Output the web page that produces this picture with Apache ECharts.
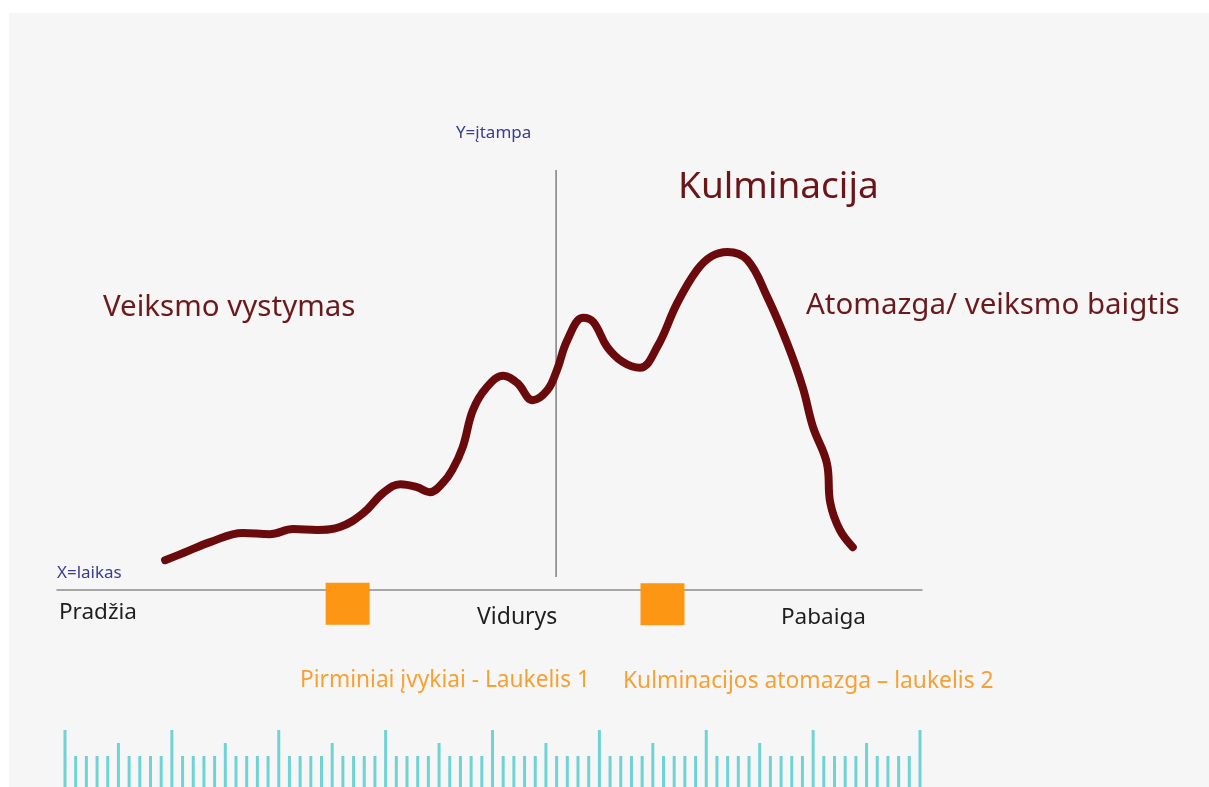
<!DOCTYPE html>
<html>
<head>
<meta charset="utf-8">
<title>Siužeto įtampa</title>
<script src="https://cdn.jsdelivr.net/npm/echarts@6/dist/echarts.min.js"></script>
<style>
  html, body { margin: 0; padding: 0; background: #ffffff; }
  #chart { width: 1209px; height: 787px; }
</style>
</head>
<body>
<div id="chart"></div>
<script>
// laikas (0-100) ir įtampa (0-100), nuskaityta nuo paveikslėlio
const laikas = [12.5, 14.6, 17.7, 21.5, 24.6, 27.3, 30.1, 32.7, 35.4, 37.7, 39.7, 41.6, 43.1, 44.6, 45.7,
  46.9, 48.1, 49.7, 51.6, 53.2, 55.0, 56.7, 57.8, 59.0, 60.8, 62.0, 63.6, 65.4, 67.4, 69.4, 71.7,
  74.0, 75.7, 77.5, 79.8, 82.1, 84.4, 86.2, 87.4, 89.0, 89.4, 90.5, 92.0];
const itampa = [7.1, 8.8, 11.4, 13.6, 13.3, 14.5, 14.3, 15.0, 18.3, 23.1, 25.2, 24.5, 23.3, 25.5, 28.6,
  34.0, 42.9, 48.3, 51.0, 49.3, 45.2, 47.6, 52.4, 59.5, 64.8, 63.8, 57.9, 54.3, 52.9, 57.9, 68.3,
  76.2, 79.5, 80.5, 78.6, 69.8, 58.8, 48.3, 38.8, 30.2, 20.7, 14.3, 10.2];

// vidurio linija ir laukeliai
const vidurys = 57.7;
const vidurioLinija = [3.1, 100];
const laukeliai = [[33.6, -3.3], [70.0, -3.4]];

// liniuotė apačioje: 81 padala
const liniuote = [
  57, 31, 31, 31, 31, 44, 31, 31, 31, 31,
  57, 31, 31, 31, 31, 44, 31, 31, 31, 31,
  57, 31, 31, 31, 31, 44, 31, 31, 31, 31,
  57, 31, 31, 31, 31, 44, 31, 31, 31, 31,
  57, 31, 31, 31, 31, 44, 31, 31, 31, 31,
  57, 31, 31, 31, 31, 44, 31, 31, 31, 31,
  57, 31, 31, 31, 31, 44, 31, 31, 31, 31,
  57, 31, 31, 31, 31, 44, 31, 31, 31, 31,
  57
];

const font = '"Noto Sans", "Open Sans", sans-serif';

document.addEventListener("DOMContentLoaded", function () {
  const chart = echarts.init(document.getElementById("chart"));

  const kreive = laikas.map((t, i) => [t, itampa[i]]);
  const padalos = liniuote.map((h, i) => [i, h]);

  // tekstas ant paveikslėlio
  function tekstas(text, x, y, size, color) {
    return {
      type: "text",
      x: x,
      y: y,
      z: 10,
      style: {
        text: text,
        fill: color,
        font: size + "px " + font,
        align: "left",
        verticalAlign: "middle"
      }
    };
  }

  const option = {
    animation: false,
    backgroundColor: "#ffffff",
    graphic: [
      { type: "rect", z: -10, shape: { x: 9, y: 13, width: 1200, height: 774 }, style: { fill: "#f6f6f6" } },
      tekstas("Y=įtampa", 456, 133, 17, "#3a3d8c"),
      tekstas("X=laikas", 57, 573, 17, "#3a3d8c"),
      tekstas("Kulminacija", 678, 187, 37, "#6b1518"),
      tekstas("Veiksmo vystymas", 103, 308, 29.5, "#6b1a1c"),
      tekstas("Atomazga/ veiksmo baigtis", 806, 306, 29.5, "#6b1a1c"),
      tekstas("Pradžia", 59, 613, 22.5, "#1e1e1e"),
      tekstas("Vidurys", 477, 617, 23, "#1e1e1e"),
      tekstas("Pabaiga", 781, 618, 22.5, "#1e1e1e"),
      tekstas("Pirminiai įvykiai - Laukelis 1", 300, 681, 22.7, "#f7a033"),
      tekstas("Kulminacijos atomazga – laukelis 2", 623, 682, 22.8, "#f7a033")
    ],
    grid: [
      { left: 57, right: 287, top: 170, bottom: 155 },
      { left: 65, right: 289, top: 730, bottom: 0 }
    ],
    xAxis: [
      {
        gridIndex: 0, type: "value", min: 0, max: 100,
        axisLine: { show: true, onZero: true, lineStyle: { color: "#8c8c8c", width: 1.5 } },
        axisTick: { show: false }, axisLabel: { show: false }, splitLine: { show: false }
      },
      {
        gridIndex: 1, type: "value", min: 0, max: 80,
        axisLine: { show: false }, axisTick: { show: false }, axisLabel: { show: false }, splitLine: { show: false }
      }
    ],
    yAxis: [
      {
        gridIndex: 0, type: "value", min: -10, max: 100,
        axisLine: { show: false }, axisTick: { show: false }, axisLabel: { show: false }, splitLine: { show: false }
      },
      {
        gridIndex: 1, type: "value", min: 0, max: 57,
        axisLine: { show: false }, axisTick: { show: false }, axisLabel: { show: false }, splitLine: { show: false }
      }
    ],
    series: [
      {
        name: "Vidurys",
        type: "line",
        xAxisIndex: 0, yAxisIndex: 0,
        data: vidurioLinija.map(v => [vidurys, v]),
        symbol: "none",
        lineStyle: { color: "#7f7f7f", width: 1.5 },
        z: 1
      },
      {
        name: "Įtampa",
        type: "line",
        xAxisIndex: 0, yAxisIndex: 0,
        data: kreive,
        smooth: 0.4,
        symbol: "none",
        clip: false,
        lineStyle: { color: "#6b0a0c", width: 8, cap: "round", join: "round" },
        z: 3
      },
      {
        name: "Laukeliai",
        type: "scatter",
        xAxisIndex: 0, yAxisIndex: 0,
        data: laukeliai,
        symbol: "rect",
        symbolSize: [44, 42],
        clip: false,
        itemStyle: { color: "#fd9613", opacity: 1 },
        z: 4
      },
      {
        name: "Liniuotė",
        type: "bar",
        xAxisIndex: 1, yAxisIndex: 1,
        data: padalos,
        barWidth: 3,
        itemStyle: { color: "#6fd3d6" }
      }
    ]
  };

  chart.setOption(option);
});
</script>
</body>
</html>
